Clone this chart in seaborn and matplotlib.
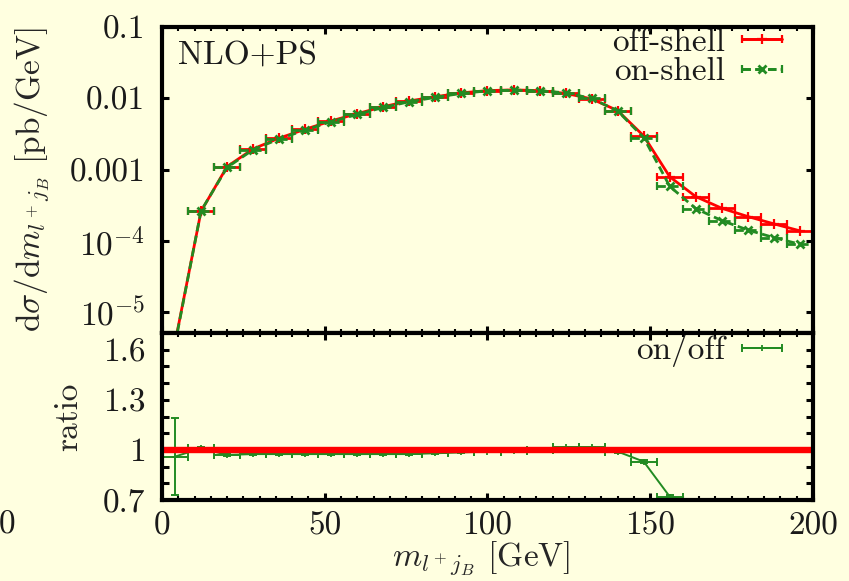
import matplotlib
matplotlib.use("Agg")
import matplotlib.pyplot as plt
import pandas as pd
import seaborn as sns
from matplotlib.legend_handler import HandlerErrorbar
from matplotlib.ticker import (FixedLocator, FixedFormatter, LogLocator,
                               MultipleLocator, NullFormatter)

# ---- data: m(l+ jB) distribution, 8 GeV bins ----
bin_centres = [4, 12, 20, 28, 36, 44, 52, 60, 68, 76, 84, 92, 100,
               108, 116, 124, 132, 140, 148, 156, 164, 172, 180, 188, 196]
bin_half_width = 4.0

off_shell = [3.7e-6, 2.6e-4, 1.10e-3, 1.95e-3, 2.76e-3, 3.67e-3, 4.81e-3,
             6.08e-3, 7.62e-3, 9.16e-3, 1.05e-2, 1.19e-2, 1.28e-2, 1.31e-2,
             1.28e-2, 1.17e-2, 9.80e-3, 6.70e-3, 2.96e-3, 7.9e-4, 4.17e-4,
             2.86e-4, 2.19e-4, 1.73e-4, 1.38e-4]
on_shell = [3.55e-6, 2.63e-4, 1.07e-3, 1.90e-3, 2.69e-3, 3.58e-3, 4.69e-3,
            5.93e-3, 7.43e-3, 8.93e-3, 1.03e-2, 1.17e-2, 1.27e-2, 1.30e-2,
            1.28e-2, 1.19e-2, 9.95e-3, 6.63e-3, 2.80e-3, 5.8e-4, 2.83e-4,
            1.92e-4, 1.42e-4, 1.11e-4, 8.95e-5]

ratio_on_off = [0.96, 1.01, 0.97, 0.975, 0.975, 0.975, 0.975, 0.975, 0.975,
                0.975, 0.98, 0.985, 0.99, 0.995, 1.0, 1.015, 1.015, 0.99,
                0.93, 0.72, 0.68, 0.67, 0.65, 0.64, 0.65]
ratio_err = [0.23, 0.008, 0.005, 0.004, 0.004, 0.004, 0.004, 0.004, 0.004,
             0.004, 0.004, 0.004, 0.004, 0.004, 0.004, 0.004, 0.005, 0.006,
             0.008, 0.01, 0.01, 0.01, 0.01, 0.01, 0.01]

x_ticks = [0, 50, 100, 150, 200]
x_tick_labels = ["0", "50", "100", "150", "200"]
y_ticks = [1e-5, 1e-4, 1e-3, 1e-2, 1e-1]
y_tick_labels = [r"$10^{-5}$", r"$10^{-4}$", "0.001", "0.01", "0.1"]
ratio_ticks = [0.7, 1.0, 1.3, 1.6]
ratio_tick_labels = ["0.7", "1", "1.3", "1.6"]

df = pd.DataFrame({"m": bin_centres, "off": off_shell, "on": on_shell,
                   "ratio": ratio_on_off, "ratio_err": ratio_err})

# ---- style ----
cream = "#FFFFE0"
red = "#FF0000"
green = "#228B22"
sns.set_theme(style="ticks", rc={"figure.facecolor": cream,
                                 "axes.facecolor": cream,
                                 "savefig.facecolor": cream})
plt.rcParams.update({
    "font.family": "serif",
    "font.serif": ["cmr10", "DejaVu Serif"],
    "mathtext.fontset": "cm",
    "axes.unicode_minus": False,
    "axes.formatter.use_mathtext": True,
    "text.color": "#1a1a1a",
    "axes.edgecolor": "black",
    "axes.linewidth": 3.0,
})
FS = 24
dash = (0, (3.0, 1.6))

fig = plt.figure(figsize=(8.49, 5.81), dpi=100)
ax_top = fig.add_axes([0.1908, 0.4269, 0.7668, 0.5267])
ax_bot = fig.add_axes([0.1908, 0.1394, 0.7668, 0.2874])

# ---- upper panel: differential cross section ----
ax_top.set_yscale("log")
sns.lineplot(data=df, x="m", y="off", ax=ax_top, color=red, lw=2.0,
             marker="+", markersize=7, markeredgewidth=1.6,
             markeredgecolor=red, estimator=None, sort=False, legend=False)
off_line = ax_top.lines[-1]
off_eb = ax_top.errorbar(df["m"], df["off"], xerr=bin_half_width, fmt="none",
                         ecolor=red, elinewidth=2.0, capsize=3.0, capthick=1.6)

sns.lineplot(data=df, x="m", y="on", ax=ax_top, color=green, lw=2.0,
             linestyle=dash, marker="x", markersize=6, markeredgewidth=2.0,
             markeredgecolor=green, estimator=None, sort=False, legend=False)
on_line = ax_top.lines[-1]
on_eb = ax_top.errorbar(df["m"], df["on"], xerr=bin_half_width, fmt="none",
                        ecolor=green, elinewidth=2.0, capsize=3.0, capthick=1.6)
on_eb[2][0].set_linestyle(dash)

ax_top.set_xlim(0, 200)
ax_top.set_ylim(5.1e-6, 0.1)
ax_top.yaxis.set_major_locator(FixedLocator(y_ticks))
ax_top.yaxis.set_major_formatter(FixedFormatter(y_tick_labels))
ax_top.yaxis.set_minor_locator(LogLocator(base=10, subs=range(2, 10)))
ax_top.yaxis.set_minor_formatter(NullFormatter())
ax_top.xaxis.set_major_locator(FixedLocator(x_ticks))
ax_top.xaxis.set_minor_locator(MultipleLocator(5))
ax_top.tick_params(labelbottom=False)
ax_top.set_xlabel("")
ax_top.set_ylabel(r"d$\sigma$/d$m_{l^+j_B}$ [pb/GeV]", fontsize=FS)
ax_top.yaxis.set_label_coords(-0.170, 0.5)

ax_top.text(0.025, 0.882, "NLO+PS", transform=ax_top.transAxes,
            fontsize=FS, va="baseline", ha="left")

hmap_top = {type(off_eb): HandlerErrorbar(xerr_size=0.6)}
ax_top.legend([(off_line, off_eb), (on_line, on_eb)], ["off-shell", "on-shell"],
              loc="upper right", bbox_to_anchor=(0.952, 0.998),
              borderaxespad=0, borderpad=0, frameon=False, markerfirst=False,
              handlelength=1.2, handletextpad=0.5, labelspacing=0.0,
              numpoints=1, fontsize=FS, handler_map=hmap_top)

# ---- lower panel: ratio on-shell / off-shell ----
ax_bot.axhline(1.0, color=red, lw=4.6, zorder=4)
sns.lineplot(data=df, x="m", y="ratio", ax=ax_bot, color=green, lw=1.4,
             marker="+", markersize=5, markeredgewidth=1.3,
             markeredgecolor=green, estimator=None, sort=False, legend=False)
ratio_line = ax_bot.lines[-1]
ratio_eb = ax_bot.errorbar(df["m"], df["ratio"], xerr=bin_half_width,
                           yerr=df["ratio_err"], fmt="none", ecolor=green,
                           elinewidth=1.4, capsize=3.0, capthick=1.4)

ax_bot.set_xlim(0, 200)
ax_bot.set_ylim(0.7, 1.7)
ax_bot.xaxis.set_major_locator(FixedLocator(x_ticks))
ax_bot.xaxis.set_major_formatter(FixedFormatter(x_tick_labels))
ax_bot.xaxis.set_minor_locator(MultipleLocator(5))
ax_bot.yaxis.set_major_locator(FixedLocator(ratio_ticks))
ax_bot.yaxis.set_major_formatter(FixedFormatter(ratio_tick_labels))
ax_bot.yaxis.set_minor_locator(MultipleLocator(0.1))
ax_bot.set_xlabel(r"$m_{l^+j_B}$ [GeV]", fontsize=FS)
ax_bot.xaxis.set_label_coords(0.49, -0.235)
ax_bot.set_ylabel("ratio", fontsize=FS)
ax_bot.yaxis.set_label_coords(-0.121, 0.5)

hmap_bot = {type(ratio_eb): HandlerErrorbar(xerr_size=0.6, yerr_size=0.0)}
ax_bot.legend([(ratio_line, ratio_eb)], ["on/off"], loc="upper right",
              bbox_to_anchor=(0.952, 0.995), borderaxespad=0, borderpad=0,
              frameon=False, markerfirst=False, handlelength=1.2,
              handletextpad=0.5, numpoints=1, fontsize=FS,
              handler_map=hmap_bot)

for ax in (ax_top, ax_bot):
    ax.tick_params(which="both", direction="in", top=True, right=True,
                   colors="black", labelcolor="#1a1a1a", labelsize=FS)
    ax.tick_params(which="major", length=5, width=2.2)
    ax.tick_params(which="minor", length=3, width=1.5)
    ax.tick_params(axis="y", which="major", pad=12)
    ax.tick_params(axis="x", which="major", pad=8)
    for s in ax.spines.values():
        s.set_linewidth(3.0)
        s.set_zorder(6)
ax_bot.tick_params(axis="y", which="minor", length=5, width=2.2)

# leftover tick label at the far left edge of the axis row
fig.text(7.5 / 849, 1 - 533 / 581, "0", fontsize=FS, ha="center",
         va="baseline")

fig.savefig("out.png", dpi=100)
